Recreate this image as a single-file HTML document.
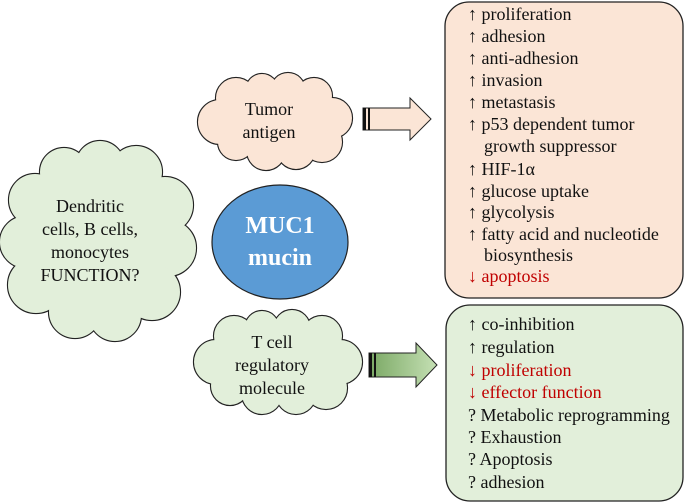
<!DOCTYPE html>
<html><head><meta charset="utf-8"><style>
body{margin:0;background:#fff;width:685px;height:503px;position:relative;overflow:hidden}
svg{display:block;position:absolute;left:0;top:0}
.t{position:absolute;font-family:"Liberation Serif","DejaVu Serif",serif;font-size:18px;line-height:18px;white-space:nowrap;color:#111}
.c{position:absolute;font-family:"Liberation Serif","DejaVu Serif",serif;font-size:18px;line-height:23px;text-align:center;color:#111;white-space:nowrap}
.r{color:#c00000}
</style></head><body>
<svg width="685" height="503" viewBox="0 0 685 503" xmlns="http://www.w3.org/2000/svg">
<defs>
<g id="tumor">
<circle cx="220" cy="122" r="22"/><circle cx="236" cy="98" r="20"/><circle cx="262" cy="90" r="16"/><circle cx="288" cy="90" r="17"/><circle cx="314" cy="96" r="18"/><circle cx="332" cy="118" r="20"/><circle cx="322" cy="142" r="20"/><circle cx="296" cy="150" r="19"/><circle cx="266" cy="151" r="19"/><circle cx="236" cy="142" r="18"/><ellipse cx="275" cy="122" rx="55" ry="30"/>
</g>
<g id="dend">
<circle cx="35" cy="200" r="26"/><circle cx="64" cy="172" r="24"/><circle cx="100" cy="165" r="24"/><circle cx="136" cy="172" r="26"/><circle cx="165" cy="205" r="28"/><circle cx="26" cy="242" r="26"/><circle cx="168" cy="248" r="28"/><circle cx="36" cy="285" r="28"/><circle cx="152" cy="292" r="28"/><circle cx="75" cy="312" r="26"/><circle cx="115" cy="315" r="26"/><ellipse cx="97" cy="244" rx="72" ry="72"/>
</g>
<g id="tcell">
<circle cx="216" cy="362" r="22"/><circle cx="234" cy="336" r="20"/><circle cx="262" cy="328" r="17"/><circle cx="292" cy="328" r="18"/><circle cx="322" cy="336" r="20"/><circle cx="340" cy="362" r="22"/><circle cx="326" cy="388" r="21"/><circle cx="296" cy="394" r="20"/><circle cx="262" cy="394" r="20"/><circle cx="230" cy="386" r="19"/><ellipse cx="277" cy="362" rx="60" ry="32"/>
</g>
<linearGradient id="ga" x1="0" x2="1"><stop offset="0" stop-color="#7aa864"/><stop offset="1" stop-color="#c5e0b4"/></linearGradient>
</defs>
<use href="#tumor" fill="#fbe5d6" stroke="#222" stroke-width="2.2"/><use href="#tumor" fill="#fbe5d6"/>
<use href="#dend" fill="#e2efda" stroke="#222" stroke-width="2.2"/><use href="#dend" fill="#e2efda"/>
<use href="#tcell" fill="#e2efda" stroke="#222" stroke-width="2.2"/><use href="#tcell" fill="#e2efda"/>
<ellipse cx="280" cy="242" rx="68" ry="57" fill="#5b9bd5" stroke="#222" stroke-width="1.2"/>
<path d="M363 108 H410 V98 L431 119 L410 140 V130 H363 Z" fill="#fbe5d6" stroke="#222" stroke-width="1"/>
<rect x="363" y="108" width="3" height="22" fill="#111"/><rect x="368" y="108" width="2" height="22" fill="#111"/>
<path d="M369 353 H416 V343 L437 365 L416 387 V377 H369 Z" fill="url(#ga)" stroke="#222" stroke-width="1"/>
<rect x="369" y="353" width="3" height="24" fill="#111"/><rect x="374" y="353" width="2" height="24" fill="#111"/>
<rect x="445" y="2" width="238" height="296" rx="24" fill="#fbe5d6" stroke="#222" stroke-width="1.3"/>
<rect x="446" y="305" width="237" height="196" rx="24" fill="#e2efda" stroke="#222" stroke-width="1.3"/>
</svg>
<div class="c" style="left:209px;width:120px;top:98px">Tumor<br>antigen</div>
<div class="c" style="left:10px;width:160px;top:195px">Dendritic<br>cells, B cells,<br>monocytes<br>FUNCTION?</div>
<div class="c" style="left:212px;width:120px;top:331px">T cell<br>regulatory<br>molecule</div>
<div class="c" style="left:210px;width:140px;top:210px;font-size:24px;line-height:32px;font-weight:bold;color:#fff">MUC1<br>mucin</div>
<div class="t" style="left:468px;top:5px">↑ proliferation</div>
<div class="t" style="left:468px;top:27px">↑ adhesion</div>
<div class="t" style="left:468px;top:49px">↑ anti-adhesion</div>
<div class="t" style="left:468px;top:71px">↑ invasion</div>
<div class="t" style="left:468px;top:93px">↑ metastasis</div>
<div class="t" style="left:468px;top:115px">↑ p53 dependent tumor</div>
<div class="t" style="left:484px;top:137px">growth suppressor</div>
<div class="t" style="left:468px;top:160px">↑ HIF-1α</div>
<div class="t" style="left:468px;top:182px">↑ glucose uptake</div>
<div class="t" style="left:468px;top:203px">↑ glycolysis</div>
<div class="t" style="left:468px;top:225px">↑ fatty acid and nucleotide</div>
<div class="t" style="left:484px;top:246px">biosynthesis</div>
<div class="t r" style="left:468px;top:267px">↓ apoptosis</div>
<div class="t" style="left:468px;top:315px">↑ co-inhibition</div>
<div class="t" style="left:468px;top:338px">↑ regulation</div>
<div class="t r" style="left:468px;top:361px">↓ proliferation</div>
<div class="t r" style="left:468px;top:383px">↓ effector function</div>
<div class="t" style="left:468px;top:406px">? Metabolic reprogramming</div>
<div class="t" style="left:468px;top:428px">? Exhaustion</div>
<div class="t" style="left:468px;top:450px">? Apoptosis</div>
<div class="t" style="left:468px;top:473px">? adhesion</div>
</body></html>
